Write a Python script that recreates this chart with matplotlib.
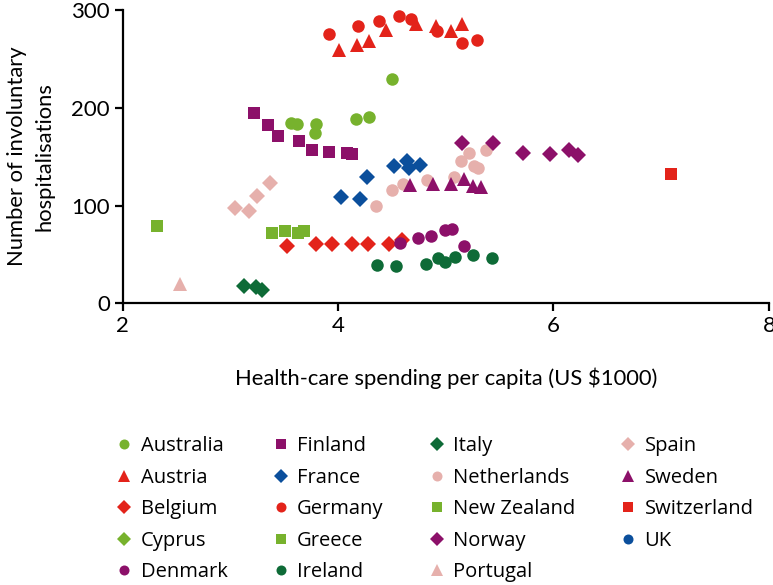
import matplotlib.pyplot as plt
import numpy as np

# data: spending (US $1000) and involuntary hospitalisations
australia_x = [3.56, 3.62, 3.80, 3.79, 4.17, 4.29, 4.50]
australia_y = [184, 183, 183, 174, 189, 191, 229]
austria_x = [4.01, 4.18, 4.29, 4.45, 4.72, 4.91, 5.05, 5.15]
austria_y = [259, 264, 268, 280, 286, 284, 279, 286]
belgium_x = [3.53, 3.80, 3.94, 4.13, 4.28, 4.47, 4.59]
belgium_y = [59, 61, 61, 61, 61, 61, 65]
cyprus_x = []
cyprus_y = []
denmark_x = [4.58, 4.74, 4.86, 4.99, 5.06, 5.17]
denmark_y = [62, 67, 69, 75, 76, 59]
finland_x = [3.22, 3.35, 3.44, 3.64, 3.76, 3.92, 4.08, 4.13]
finland_y = [195, 182, 171, 166, 157, 155, 154, 153]
france_x = [4.03, 4.20, 4.27, 4.52, 4.64, 4.66, 4.76]
france_y = [109, 107, 129, 140, 146, 138, 141]
germany_x = [3.92, 4.19, 4.38, 4.57, 4.68, 4.92, 5.15, 5.29]
germany_y = [275, 284, 289, 294, 291, 279, 266, 269]
greece_x = [2.32]
greece_y = [79]
ireland_x = [4.36, 4.54, 4.82, 4.93, 4.99, 5.09, 5.25, 5.43]
ireland_y = [39, 38, 40, 46, 42, 47, 49, 46]
italy_x = [3.13, 3.24, 3.29]
italy_y = [18, 17, 14]
netherlands_x = [4.35, 4.50, 4.60, 4.83, 5.08, 5.14, 5.22, 5.26, 5.30, 5.37]
netherlands_y = [100, 116, 122, 126, 129, 146, 154, 140, 138, 157]
newzealand_x = [3.39, 3.51, 3.63, 3.68]
newzealand_y = [72, 74, 72, 74]
norway_x = [5.15, 5.44, 5.72, 5.97, 6.14, 6.23]
norway_y = [164, 164, 154, 153, 157, 152]
portugal_x = [2.53]
portugal_y = [20]
spain_x = [3.04, 3.17, 3.25, 3.37]
spain_y = [98, 94, 110, 123]
sweden_x = [4.67, 4.88, 5.05, 5.17, 5.25, 5.33]
sweden_y = [121, 122, 122, 127, 120, 119]
switzerland_x = [7.09]
switzerland_y = [132]
uk_x = []
uk_y = []

red = '#e3231a'
green = '#77b22d'
purple = '#8c1069'
blue = '#0b4f9c'
pink = '#e6b0ac'
dkgreen = '#0e6b37'

series = [
    ('Australia', australia_x, australia_y, 'o', green, 9),
    ('Austria', austria_x, austria_y, '^', red, 10),
    ('Belgium', belgium_x, belgium_y, 'D', red, 8.5),
    ('Cyprus', cyprus_x, cyprus_y, 'D', green, 8.5),
    ('Denmark', denmark_x, denmark_y, 'o', purple, 9),
    ('Finland', finland_x, finland_y, 's', purple, 8.5),
    ('France', france_x, france_y, 'D', blue, 8.5),
    ('Germany', germany_x, germany_y, 'o', red, 9),
    ('Greece', greece_x, greece_y, 's', green, 8.5),
    ('Ireland', ireland_x, ireland_y, 'o', dkgreen, 9),
    ('Italy', italy_x, italy_y, 'D', dkgreen, 8.5),
    ('Netherlands', netherlands_x, netherlands_y, 'o', pink, 9),
    ('New Zealand', newzealand_x, newzealand_y, 's', green, 8.5),
    ('Norway', norway_x, norway_y, 'D', purple, 8.5),
    ('Portugal', portugal_x, portugal_y, '^', pink, 10),
    ('Spain', spain_x, spain_y, 'D', pink, 8.5),
    ('Sweden', sweden_x, sweden_y, '^', purple, 10),
    ('Switzerland', switzerland_x, switzerland_y, 's', red, 8.5),
    ('UK', uk_x, uk_y, 'o', blue, 9),
]

axis_font = ['Lato', 'DejaVu Sans']
legend_font = ['Open Sans', 'DejaVu Sans']

fig = plt.figure(figsize=(7.73, 5.85), dpi=100)
ax = fig.add_axes([0.1585, 0.4815, 0.8363, 0.5014])

for name, xs, ys, m, c, ms in series:
    ax.plot(xs, ys, linestyle='none', marker=m, color=c, markersize=ms,
            markeredgewidth=0, label=name, clip_on=False)

ax.set_xlim(2, 8)
ax.set_ylim(0, 300)
ax.set_xticks([2, 4, 6, 8])
ax.set_yticks([0, 100, 200, 300])
for s in ['top', 'right']:
    ax.spines[s].set_visible(False)
for s in ['left', 'bottom']:
    ax.spines[s].set_linewidth(1.6)
ax.tick_params(width=1.6, length=6, labelsize=16, pad=3)
for lab in ax.get_xticklabels() + ax.get_yticklabels():
    lab.set_family(axis_font)

ax.set_xlabel('Health-care spending per capita (US $1000)', family=axis_font,
              fontsize=15.8, labelpad=23)
ax.set_ylabel('Number of involuntary\nhospitalisations', family=axis_font,
              fontsize=15.8, labelpad=12, linespacing=1.5)

leg = fig.legend(loc='upper left', bbox_to_anchor=(0.1466, 0.2545), ncol=4,
                 frameon=False, markerscale=0.8, handletextpad=0.25,
                 columnspacing=2.1, labelspacing=0.57, handlelength=1.1,
                 borderaxespad=0, borderpad=0,
                 prop={'family': legend_font, 'size': 14.5})

fig.savefig('out.png', dpi=100)
